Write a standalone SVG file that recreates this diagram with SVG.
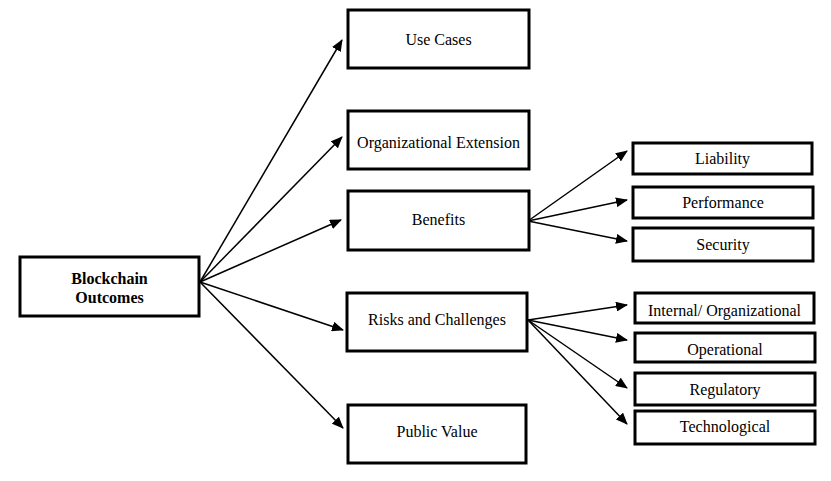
<svg xmlns="http://www.w3.org/2000/svg" width="831" height="481" viewBox="0 0 831 481">
<style>
.box{fill:#fff;stroke:#000;stroke-width:3}
.t{font-family:"Liberation Serif","Times New Roman",serif;font-size:16px;fill:#000;text-anchor:middle}
.b{font-weight:bold}
.c{stroke:#000;stroke-width:1.5;fill:none;marker-end:url(#ah)}
</style>
<defs>
<marker id="ah" markerUnits="userSpaceOnUse" markerWidth="12" markerHeight="10" refX="11" refY="5" orient="auto">
<path d="M0,0 L12,5 L0,10 Z" fill="#000"/>
</marker>
</defs>
<rect width="831" height="481" fill="#fff"/>
<g id="connectors">
<line class="c" x1="200" y1="282" x2="342" y2="40"/>
<line class="c" x1="200" y1="282" x2="342" y2="137"/>
<line class="c" x1="200" y1="282" x2="341" y2="220"/>
<line class="c" x1="200" y1="282" x2="343" y2="330"/>
<line class="c" x1="200" y1="282" x2="343" y2="428"/>
<line class="c" x1="528" y1="221" x2="627" y2="151"/>
<line class="c" x1="528" y1="221" x2="627" y2="200"/>
<line class="c" x1="528" y1="221" x2="627" y2="241"/>
<line class="c" x1="528" y1="320" x2="627" y2="305"/>
<line class="c" x1="528" y1="320" x2="627" y2="340"/>
<line class="c" x1="528" y1="320" x2="627" y2="388"/>
<line class="c" x1="528" y1="320" x2="627" y2="424"/>
</g>
<g id="blockchain-outcomes"><rect class="box" x="20" y="257" width="179" height="59"/><text class="t b" x="109.5" y="284">Blockchain</text><text class="t b" x="109.5" y="303">Outcomes</text></g>
<g id="use-cases"><rect class="box" x="348" y="10" width="181" height="58"/><text class="t" x="438.5" y="45">Use Cases</text></g>
<g id="organizational-extension"><rect class="box" x="348" y="111" width="181" height="58"/><text class="t" x="438.5" y="148">Organizational Extension</text></g>
<g id="benefits"><rect class="box" x="348" y="191" width="181" height="59"/><text class="t" x="438.5" y="225">Benefits</text></g>
<g id="risks"><rect class="box" x="347" y="293" width="180" height="58"/><text class="t" x="437" y="325">Risks and Challenges</text></g>
<g id="public-value"><rect class="box" x="348" y="405" width="178" height="58"/><text class="t" x="437" y="437">Public Value</text></g>
<g id="liability"><rect class="box" x="633" y="143" width="179" height="31"/><text class="t" x="722.5" y="164">Liability</text></g>
<g id="performance"><rect class="box" x="633" y="187" width="180" height="31"/><text class="t" x="723" y="208">Performance</text></g>
<g id="security"><rect class="box" x="633" y="228" width="180" height="33"/><text class="t" x="723" y="250">Security</text></g>
<g id="internal"><rect class="box" x="635" y="293" width="179" height="30"/><text class="t" x="724.5" y="316">Internal/ Organizational</text></g>
<g id="operational"><rect class="box" x="635" y="333" width="180" height="29"/><text class="t" x="725" y="355">Operational</text></g>
<g id="regulatory"><rect class="box" x="635" y="373" width="180" height="32"/><text class="t" x="725" y="395">Regulatory</text></g>
<g id="technological"><rect class="box" x="635" y="411" width="180" height="33"/><text class="t" x="725" y="432">Technological</text></g>
</svg>
